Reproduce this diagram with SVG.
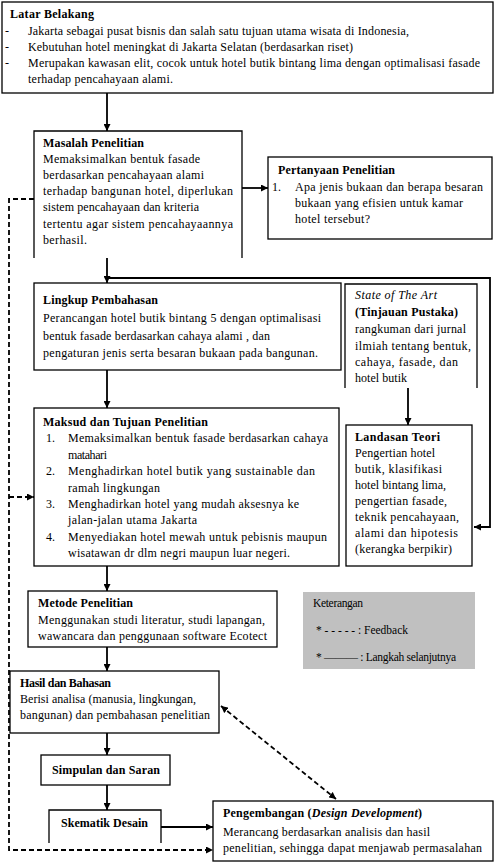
<svg xmlns="http://www.w3.org/2000/svg" width="495" height="863" viewBox="0 0 495 863">
<defs>
<marker id="ah" viewBox="0 0 10 10" refX="10" refY="5" markerWidth="7" markerHeight="7" markerUnits="userSpaceOnUse" orient="auto-start-reverse"><path d="M0,0 L10,5 L0,10 z" fill="#000"/></marker>
</defs>
<style>
text{font-family:"Liberation Serif","Times New Roman",serif;font-size:12px;fill:#000}
.b{font-weight:bold}
.i{font-style:italic}
.k{font-size:11.5px}
.box{fill:#fff;stroke:#000;stroke-width:1.3}
.open{fill:none;stroke:#000;stroke-width:1.3}
.c{fill:none;stroke:#000;stroke-width:1.8}
.d{fill:none;stroke:#000;stroke-width:1.8;stroke-dasharray:5 3}
</style>
<rect width="495" height="863" fill="#fff"/>

<g id="connectors">
<line class="c" x1="107" y1="93" x2="107" y2="131" marker-end="url(#ah)"/>
<line class="c" x1="242" y1="188" x2="268" y2="188" marker-end="url(#ah)"/>
<line class="c" x1="107" y1="258" x2="107" y2="283" marker-end="url(#ah)"/>
<polyline class="c" points="107,278 490,278 490,527 474,527" marker-end="url(#ah)"/>
<line class="c" x1="107" y1="370" x2="107" y2="408" marker-end="url(#ah)"/>
<line class="c" x1="408" y1="388" x2="408" y2="425" marker-end="url(#ah)"/>
<line class="c" x1="107" y1="566" x2="107" y2="591" marker-end="url(#ah)"/>
<line class="c" x1="107" y1="647" x2="107" y2="671" marker-end="url(#ah)"/>
<line class="c" x1="107" y1="733" x2="107" y2="755" marker-end="url(#ah)"/>
<line class="c" x1="107" y1="785" x2="107" y2="810" marker-end="url(#ah)"/>
<line class="c" x1="161" y1="827" x2="213" y2="827" marker-end="url(#ah)"/>
<polyline class="d" points="34,199 9,199 9,850 213,850" marker-end="url(#ah)"/>
<line class="d" x1="9" y1="497" x2="34" y2="497" marker-end="url(#ah)"/>
<line class="d" x1="221" y1="706" x2="336" y2="799" marker-start="url(#ah)" marker-end="url(#ah)"/>
</g>

<g id="latar-belakang">
<rect class="box" x="2" y="2" width="491" height="91"/>
<text class="b" x="10" y="18" textLength="84">Latar Belakang</text>
<text x="5" y="35">-</text>
<text x="28" y="35" textLength="381">Jakarta sebagai pusat bisnis dan salah satu tujuan utama wisata di Indonesia,</text>
<text x="5" y="51">-</text>
<text x="28" y="51" textLength="325">Kebutuhan hotel meningkat di Jakarta Selatan (berdasarkan riset)</text>
<text x="5" y="67">-</text>
<text x="28" y="67" textLength="452">Merupakan kawasan elit, cocok untuk hotel butik bintang lima dengan optimalisasi fasade</text>
<text x="28" y="83" textLength="145">terhadap pencahayaan alami.</text>
</g>

<g id="masalah-penelitian">
<path class="box" d="M34,258 V131 H242 V258"/>
<text class="b" x="43" y="147" textLength="101">Masalah Penelitian</text>
<text x="43" y="163" textLength="157">Memaksimalkan bentuk fasade</text>
<text x="43" y="179" textLength="161">berdasarkan pencahayaan alami</text>
<text x="43" y="195" textLength="190">terhadap bangunan hotel, diperlukan</text>
<text x="43" y="211" textLength="156">sistem pencahayaan dan kriteria</text>
<text x="43" y="228" textLength="190">tertentu agar sistem pencahayaannya</text>
<text x="43" y="244" textLength="44">berhasil.</text>
</g>

<g id="pertanyaan-penelitian">
<rect class="box" x="268" y="157" width="224" height="82"/>
<text class="b" x="278" y="174" textLength="117">Pertanyaan Penelitian</text>
<text x="272" y="191">1.</text>
<text x="295" y="191" textLength="188">Apa jenis bukaan dan berapa besaran</text>
<text x="295" y="207" textLength="168">bukaan yang efisien untuk kamar</text>
<text x="295" y="223" textLength="75">hotel tersebut?</text>
</g>

<g id="lingkup-pembahasan">
<rect class="box" x="34" y="283" width="307" height="87"/>
<text class="b" x="43" y="304" textLength="115">Lingkup Pembahasan</text>
<text x="43" y="322" textLength="278">Perancangan hotel butik bintang 5 dengan optimalisasi</text>
<text x="43" y="340" textLength="227">bentuk fasade berdasarkan cahaya alami , dan</text>
<text x="43" y="357" textLength="275">pengaturan jenis serta besaran bukaan pada bangunan.</text>
</g>

<g id="state-of-the-art">
<path class="open" d="M345,388 V284 H477 V388"/>
<text class="i" x="355" y="299" textLength="82">State of The Art</text>
<text class="b" x="355" y="316" textLength="103">(Tinjauan Pustaka)</text>
<text x="355" y="333" textLength="111">rangkuman dari jurnal</text>
<text x="355" y="350" textLength="116">ilmiah tentang bentuk,</text>
<text x="355" y="366" textLength="103">cahaya, fasade, dan</text>
<text x="355" y="382" textLength="52">hotel butik</text>
</g>

<g id="maksud-tujuan">
<rect class="box" x="34" y="408" width="305" height="158"/>
<text class="b" x="43" y="426" textLength="165">Maksud dan Tujuan Penelitian</text>
<text x="46" y="442">1.</text>
<text x="68" y="442" textLength="260">Memaksimalkan bentuk fasade berdasarkan cahaya</text>
<text x="68" y="459" textLength="39">matahari</text>
<text x="46" y="475">2.</text>
<text x="68" y="475" textLength="247">Menghadirkan hotel butik yang sustainable dan</text>
<text x="68" y="492" textLength="92">ramah lingkungan</text>
<text x="46" y="508">3.</text>
<text x="68" y="508" textLength="231">Menghadirkan hotel yang mudah aksesnya ke</text>
<text x="68" y="524" textLength="129">jalan-jalan utama Jakarta</text>
<text x="46" y="541">4.</text>
<text x="68" y="541" textLength="259">Menyediakan hotel mewah untuk pebisnis maupun</text>
<text x="68" y="557" textLength="222">wisatawan dr dlm negri maupun luar negeri.</text>
</g>

<g id="landasan-teori">
<rect class="box" x="346" y="425" width="126" height="141"/>
<text class="b" x="355" y="441" textLength="85">Landasan Teori</text>
<text x="355" y="457" textLength="80">Pengertian hotel</text>
<text x="355" y="473" textLength="87">butik, klasifikasi</text>
<text x="355" y="489" textLength="91">hotel bintang lima,</text>
<text x="355" y="505" textLength="92">pengertian fasade,</text>
<text x="355" y="521" textLength="104">teknik pencahayaan,</text>
<text x="355" y="537" textLength="103">alami dan hipotesis</text>
<text x="355" y="553" textLength="97">(kerangka berpikir)</text>
</g>

<g id="metode-penelitian">
<rect class="box" x="28" y="591" width="249" height="56"/>
<text class="b" x="38" y="607" textLength="95">Metode Penelitian</text>
<text x="38" y="624" textLength="227">Menggunakan studi literatur, studi lapangan,</text>
<text x="38" y="640" textLength="229">wawancara dan penggunaan software Ecotect</text>
</g>

<g id="keterangan">
<rect x="303" y="592" width="172" height="77" fill="#c0c0c0"/>
<text class="k" x="313" y="607" textLength="50">Keterangan</text>
<text class="k" x="316" y="634" textLength="92">* - - - - - : Feedback</text>
<text class="k" x="316" y="661" textLength="140">* ——— : Langkah selanjutnya</text>
</g>

<g id="hasil-bahasan">
<rect class="box" x="10" y="671" width="209" height="62"/>
<text class="b" x="20" y="687" textLength="91">Hasil dan Bahasan</text>
<text x="20" y="703" textLength="176">Berisi analisa (manusia, lingkungan,</text>
<text x="20" y="719" textLength="190">bangunan) dan pembahasan penelitian</text>
</g>

<g id="simpulan-saran">
<rect class="box" x="41" y="755" width="129" height="30"/>
<text class="b" x="52" y="774" textLength="108">Simpulan dan Saran</text>
</g>

<g id="skematik-desain">
<path class="open" d="M49,843 V810 H161 V843"/>
<text class="b" x="61" y="827" textLength="87">Skematik Desain</text>
</g>

<g id="pengembangan">
<rect class="box" x="213" y="801" width="280" height="60"/>
<text class="b" x="223" y="817" textLength="199">Pengembangan (<tspan class="i">Design Development</tspan>)</text>
<text x="223" y="836" textLength="207">Merancang berdasarkan analisis dan hasil</text>
<text x="223" y="852" textLength="259">penelitian, sehingga dapat menjawab permasalahan</text>
</g>
</svg>
